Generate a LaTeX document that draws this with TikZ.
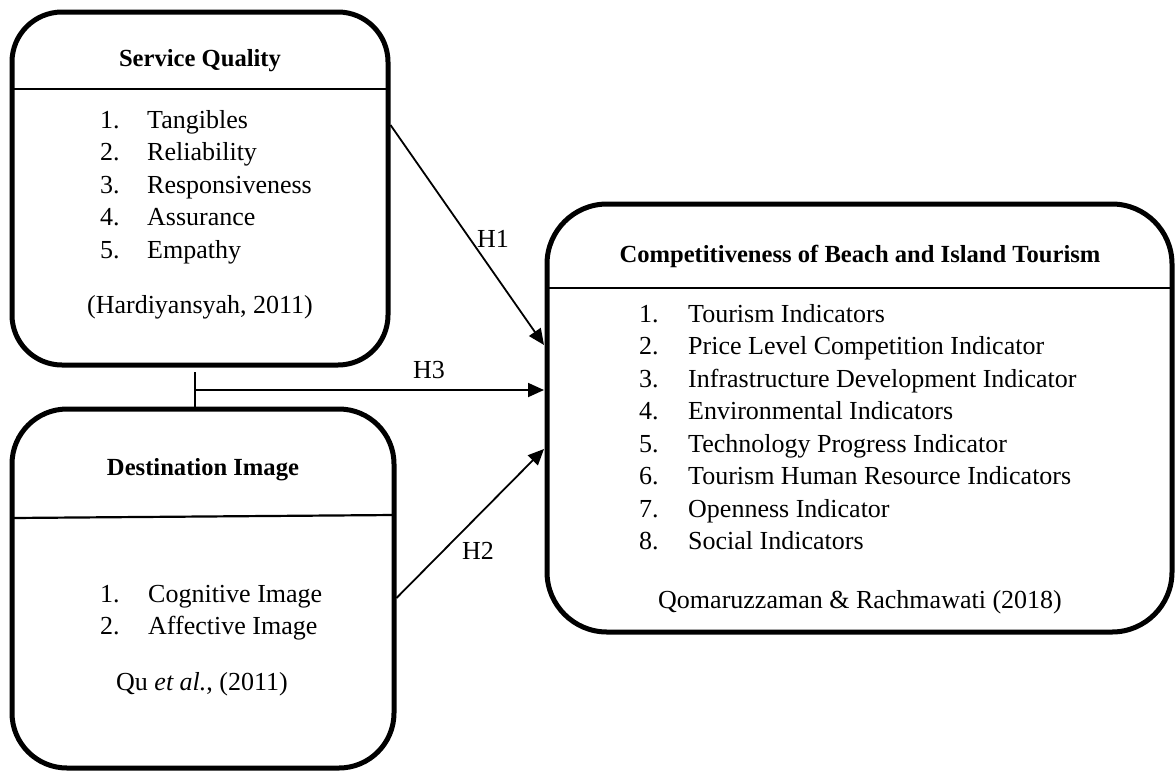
\documentclass[tikz,border=0pt]{standalone}
\usepackage{fontspec}
\setmainfont{Liberation Serif}
\usetikzlibrary{arrows.meta}
\begin{document}
\begin{tikzpicture}[x=1pt,y=-1pt,
  box/.style={draw, line width=5pt, rounded corners=#1, inner sep=0pt},
  divider/.style={line width=2.2pt},
  txt/.style={inner sep=0pt, font=\fontsize{26}{32.5}\selectfont},
  head/.style={inner sep=0pt, font=\fontsize{24.6}{30}\selectfont\bfseries},
  arr/.style={line width=1.8pt, -{Triangle[length=16pt,width=14pt]}},
  plain/.style={line width=1.8pt}]
\useasboundingbox (0,0) rectangle (1175,772);

% boxes
\node[box=50, minimum width=376pt, minimum height=353pt] (sq) at (200,188.5) {};
\node[box=55, minimum width=382pt, minimum height=359pt] (di) at (203,588.5) {};
\node[box=60, minimum width=625pt, minimum height=428pt] (ct) at (859.5,418) {};

% dividers
\draw[divider] (12,89) -- (388,89);
\draw[divider] (12,518) -- (394,515);
\draw[divider] (547,288) -- (1172,288);

% headings
\node[head, anchor=base] (sqt) at (200,66) {Service Quality};
\node[head, anchor=base] (dit) at (203,475) {Destination Image};
\node[head, anchor=base] (ctt) at (860,262) {Competitiveness of Beach and Island Tourism};

% lists
\node[txt, anchor=base west] (sql) at (100,128) {\begin{tabular}[t]{@{}p{47pt}@{}l@{}}
1. & Tangibles\\ 2. & Reliability\\ 3. & Responsiveness\\ 4. & Assurance\\ 5. & Empathy\end{tabular}};
\node[txt, anchor=base] (sqc) at (200,313) {(Hardiyansyah, 2011)};

\node[txt, anchor=base west] (dil) at (100,602) {\begin{tabular}[t]{@{}p{48pt}@{}l@{}}
1. & Cognitive Image\\ 2. & Affective Image\end{tabular}};
\node[txt, anchor=base] (dic) at (202,690) {Qu \textit{et al.}, (2011)};

\node[txt, anchor=base west] (ctl) at (639,322) {\begin{tabular}[t]{@{}p{49pt}@{}l@{}}
1. & Tourism Indicators\\ 2. & Price Level Competition Indicator\\ 3. & Infrastructure Development Indicator\\
4. & Environmental Indicators\\ 5. & Technology Progress Indicator\\ 6. & Tourism Human Resource Indicators\\
7. & Openness Indicator\\ 8. & Social Indicators\end{tabular}};
\node[txt, anchor=base] (ctc) at (860,608) {Qomaruzzaman \& Rachmawati (2018)};

% connector points
\coordinate (h1s) at (390.5,125);
\coordinate (h1e) at (544,345);
\coordinate (h3a) at (195,372);
\coordinate (h3b) at (195,406.5);
\coordinate (h3s) at (195,390);
\coordinate (h3e) at (544,390);
\coordinate (h2s) at (396.5,598);
\coordinate (h2e) at (544,449);

\draw[arr] (h1s) -- (h1e);
\draw[plain] (h3a) -- (h3b);
\draw[arr] (h3s) -- (h3e);
\draw[arr] (h2s) -- (h2e);

% labels
\node[txt, anchor=base west] (l1) at (477,247) {H1};
\node[txt, anchor=base west] (l3) at (413,378) {H3};
\node[txt, anchor=base west] (l2) at (462,559) {H2};
\end{tikzpicture}
\end{document}
